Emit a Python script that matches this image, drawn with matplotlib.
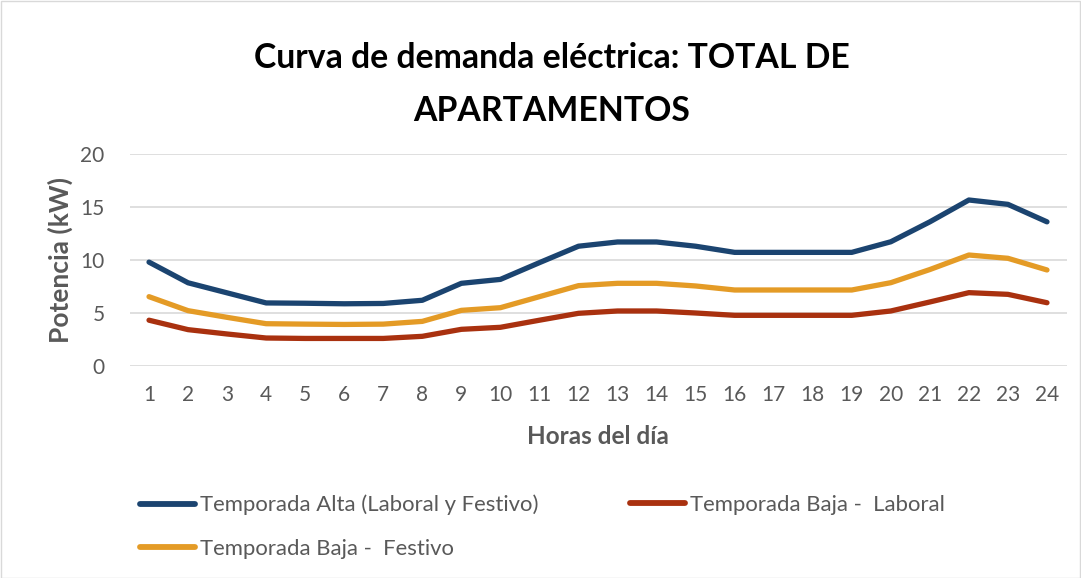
import matplotlib
matplotlib.use("Agg")
import matplotlib.pyplot as plt
from matplotlib.patches import Rectangle

hours = list(range(1, 25))
alta = [9.8, 7.85, 6.9, 5.95, 5.92, 5.87, 5.9, 6.2, 7.8, 8.17, 9.75, 11.3,
        11.7, 11.7, 11.3, 10.72, 10.72, 10.72, 10.72, 11.72, 13.6, 15.66, 15.25, 13.6]
baja_lab = [4.32, 3.43, 3.02, 2.64, 2.6, 2.6, 2.6, 2.8, 3.46, 3.65, 4.32, 4.97,
            5.19, 5.19, 5.0, 4.78, 4.78, 4.78, 4.78, 5.19, 6.04, 6.92, 6.76, 5.97]
baja_fest = [6.54, 5.22, 4.59, 3.99, 3.95, 3.92, 3.95, 4.21, 5.25, 5.5, 6.54, 7.58,
             7.8, 7.8, 7.55, 7.17, 7.17, 7.17, 7.17, 7.86, 9.1, 10.47, 10.16, 9.06]
labels = ["Temporada Alta (Laboral y Festivo)", "Temporada Baja -  Laboral",
          "Temporada Baja -  Festivo"]
title_lines = ["Curva de demanda eléctrica: TOTAL DE", "APARTAMENTOS"]

plt.rcParams['font.family'] = ['Lato', 'DejaVu Sans']
W, H = 1081, 578
fig = plt.figure(figsize=(W / 100, H / 100), dpi=100)
ax = fig.add_axes([129.5 / W, (H - 366) / H, (1066.5 - 129.5) / W, (366 - 154) / H])

gray = '#595959'
c_blue, c_red, c_orange = '#1b4470', '#a9310f', '#e49b26'
kw = dict(lw=3.8, solid_capstyle='round', solid_joinstyle='round')
l1, = ax.plot(hours, alta, color=c_blue, **kw)
l2, = ax.plot(hours, baja_lab, color=c_red, **kw)
l3, = ax.plot(hours, baja_fest, color=c_orange, **kw)

ax.set_xlim(0.5, 24.5)
ax.set_ylim(0, 20)
ax.set_yticks([0, 5, 10, 15, 20])
ax.set_xticks(hours)
ax.grid(axis='y', color='#d9d9d9', lw=1.2)
ax.set_axisbelow(True)
for s in ax.spines.values():
    s.set_visible(False)
ax.tick_params(length=0, labelsize=15, colors=gray)
ax.tick_params(axis='x', pad=14)
ax.tick_params(axis='y', pad=18)
ax.set_xlabel("Horas del día", fontsize=17.5, fontweight='bold', color=gray, labelpad=14)
ax.set_ylabel("Potencia (kW)", fontsize=19, fontweight='bold', color=gray, labelpad=5)

fig.text(552 / W, 1 - 68 / H, title_lines[0], ha='center', va='baseline',
         fontsize=24.3, fontweight='bold', color='black')
fig.text(552 / W, 1 - 121 / H, title_lines[1], ha='center', va='baseline',
         fontsize=24.3, fontweight='bold', color='black')

legpos = [(140, 505), (630, 505), (140, 549)]
for line, lab, (px, py) in zip([l1, l2, l3], labels, legpos):
    lg = fig.legend([line], [lab], loc='center left',
                    bbox_to_anchor=(px / W, 1 - py / H), frameon=False,
                    fontsize=15.9, handlelength=2.5, handletextpad=0.2,
                    borderpad=0, borderaxespad=0)
    for t in lg.get_texts():
        t.set_color(gray)
    for h in lg.legend_handles:
        h.set_linewidth(4.2)

fig.patches.append(Rectangle((0.5 / W, 0.5 / H), 1 - 1.5 / W, 1 - 1.5 / H,
                             transform=fig.transFigure, fill=False,
                             edgecolor='#d9d9d9', lw=1))
fig.savefig("out.png", dpi=100)
